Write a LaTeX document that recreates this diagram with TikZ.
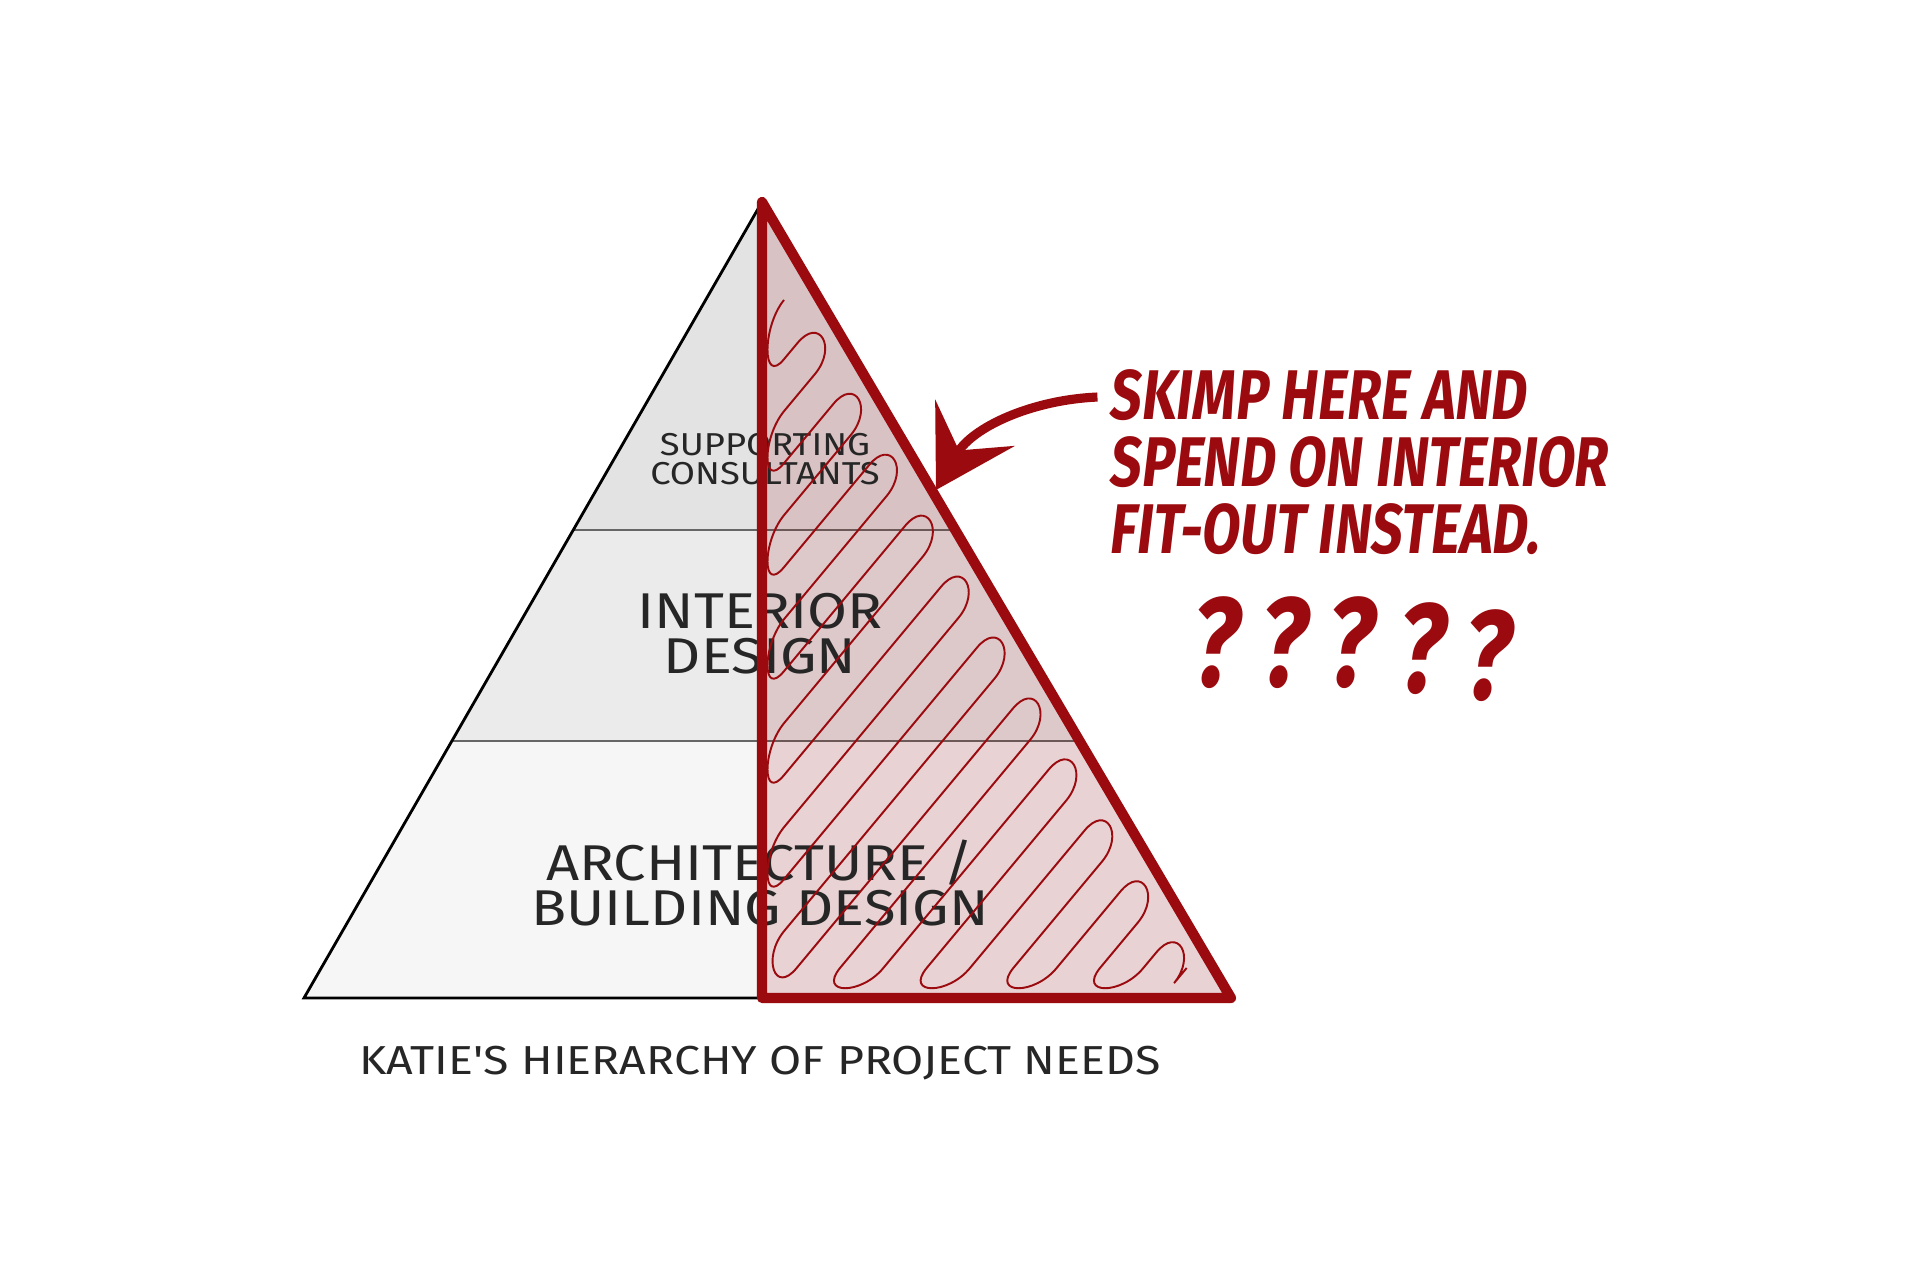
\documentclass[tikz,border=0pt]{standalone}
\usepackage{fontspec}
\setmainfont{Fira Sans}
\newfontfamily\handfont[FakeStretch=1.15]{Fira Sans}
\newfontfamily\inkfont[FakeStretch=0.78,FakeSlant=0.12]{Fira Sans}
\usetikzlibrary{calc,arrows.meta}
\definecolor{inkred}{HTML}{9A0A0E}

\begin{document}
\begin{tikzpicture}[
    x=0.01cm, y=-0.01cm,
    layerline/.style={draw=black!60, line width=0.5pt},
    edgeline/.style={draw=black, line width=0.8pt},
    redframe/.style={draw=inkred, line width=2.9pt, line join=round},
    scribble/.style={draw=inkred, line width=0.55pt},
    pyrsmall/.style={align=center, text=black!85, inner sep=0pt, font=\handfont\fontsize{9}{8.3}\selectfont},
    pyrbig/.style={align=center, text=black!85, inner sep=0pt, font=\handfont\fontsize{14.3}{12.8}\selectfont},
    captiontext/.style={text=black!85, inner sep=0pt, font=\handfont\fontsize{11.5}{12}\selectfont},
    inknote/.style={align=left, anchor=west, text=inkred, inner sep=0pt, font=\inkfont\bfseries\fontsize{20}{19}\selectfont},
    qmark/.style={text=inkred, inner sep=0pt, font=\inkfont\bfseries\fontsize{36}{36}\selectfont},
    notearrow/.style={draw=inkred, line width=2.6pt, -{Stealth[length=22pt,width=26pt,inset=9pt]}}
]
  \useasboundingbox (0,0) rectangle (1920,1280);

  % Pyramid
  \coordinate (apex) at (762,202);
  \coordinate (bl) at (304,998);
  \coordinate (br) at (1231,998);
  \coordinate (base) at (762,998);
  \coordinate (l1) at ($(apex)!0.412!(bl)$);
  \coordinate (r1) at ($(apex)!0.412!(br)$);
  \coordinate (l2) at ($(apex)!0.677!(bl)$);
  \coordinate (r2) at ($(apex)!0.677!(br)$);

  \fill[black!11] (apex) -- (l1) -- (r1) -- cycle;
  \fill[black!8] (l1) -- (l2) -- (r2) -- (r1) -- cycle;
  \fill[black!3.5] (l2) -- (bl) -- (br) -- (r2) -- cycle;
  \draw[layerline] (l1) -- (r1);
  \draw[layerline] (l2) -- (r2);
  \draw[edgeline] (apex) -- (bl) -- (base);
  \fill[inkred, fill opacity=0.15] (apex) -- (base) -- (br) -- cycle;

  % Nodes
  \node[pyrsmall] (supp) at (765,459) {SUPPORTING\\CONSULTANTS};
  \node[pyrbig] (interior) at (760,634) {INTERIOR\\DESIGN};
  \node[pyrbig] (arch) at (760,883) {ARCHITECTURE /\\BUILDING DESIGN};
  \node[captiontext] (caption) at (760,1063) {KATIE'S HIERARCHY OF PROJECT NEEDS};

  \node[inknote] (note) at (1108,462) {SKIMP HERE AND\\SPEND ON INTERIOR\\FIT-OUT INSTEAD.};
  \foreach \x/\y [count=\i] in {1212/643, 1280/643, 1347/643, 1418/649, 1484/656}
    \node[qmark] (q\i) at (\x,\y) {?};

  % Scribble
  \begin{scope}
    \clip (apex) -- (base) -- (br) -- cycle;
    \draw[scribble] (784,300)
      \foreach \c [evaluate=\c as \lxa using {max(784,(\c-968)/1.2)},
                   evaluate=\c as \lya using {\c-1.2*max(784,(\c-968)/1.2)},
                   evaluate=\c as \rxa using {(643+0.589*\c)/1.707-28},
                   evaluate=\c as \rya using {\c-1.2*((643+0.589*\c)/1.707-28)},
                   evaluate=\c as \lxb using {max(784,(\c+52-968)/1.2)},
                   evaluate=\c as \lyb using {\c+52-1.2*max(784,(\c+52-968)/1.2)},
                   evaluate=\c as \rxb using {(643+0.589*(\c+52))/1.707-28},
                   evaluate=\c as \ryb using {\c+52-1.2*((643+0.589*(\c+52))/1.707-28)}]
      in {1300,1404,...,2400}
      { .. controls +(-22,27) and +(-22,27) .. (\lxa,\lya) -- (\rxa,\rya)
        .. controls +(22,-27) and +(22,-27) .. (\rxb,\ryb) -- (\lxb,\lyb) };
  \end{scope}

  \draw[redframe] (apex) -- (base) -- (br) -- cycle;

  % Arrows
  \coordinate (tip) at (936,490);
  \draw[notearrow] ([xshift=-3pt,yshift=-8pt]note.north west) .. controls (1030,400) and (972,428) .. (tip);
\end{tikzpicture}
\end{document}
